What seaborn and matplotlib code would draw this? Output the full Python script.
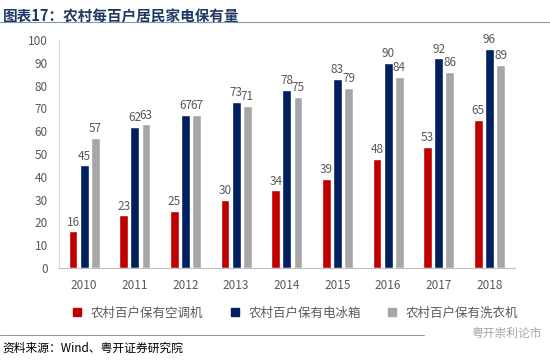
import matplotlib
matplotlib.use("Agg")
import matplotlib.pyplot as plt
import seaborn as sns
import pandas as pd

# 数据
years = ["2010", "2011", "2012", "2013", "2014", "2015", "2016", "2017", "2018"]
aircon = [16, 23, 25, 30, 34, 39, 48, 53, 65]
fridge = [45, 62, 67, 73, 78, 83, 90, 92, 96]
washer = [57, 63, 67, 71, 75, 79, 84, 86, 89]
series_names = ["农村百户保有空调机", "农村百户保有电冰箱", "农村百户保有洗衣机"]
colors = ["#C00000", "#002060", "#A6A6A6"]

df = pd.DataFrame({
    "year": years * 3,
    "value": aircon + fridge + washer,
    "series": [series_names[0]] * 9 + [series_names[1]] * 9 + [series_names[2]] * 9,
})

sns.set_style("white")
plt.rcParams["font.family"] = ["Noto Sans CJK SC", "DejaVu Sans"]

fig = plt.figure(figsize=(5.5, 3.61), dpi=100)
ax = fig.add_axes([0.107, 0.258, 0.829, 0.631])

sns.barplot(data=df, x="year", y="value", hue="series", palette=colors,
            width=0.66, ax=ax, legend=False, saturation=1)

# 柱子之间留小缝
for p in ax.patches:
    w = p.get_width()
    p.set_x(p.get_x() + w * 0.1)
    p.set_width(w * 0.8)

for c in ax.containers:
    ax.bar_label(c, fmt="%d", fontsize=8.5, color="#595959", padding=2)

ax.set_ylim(0, 100)
ax.set_yticks(range(0, 101, 10))
ax.set_xlim(-0.5, 8.5)
ax.set_xlabel("")
ax.set_ylabel("")
ax.tick_params(axis="y", length=0, labelsize=8.5, labelcolor="#595959", pad=8)
ax.tick_params(axis="x", length=0, labelsize=8.5, labelcolor="#595959", pad=8)
ax.set_xticks([i + 0.5 for i in range(-1, 9)], minor=True)
ax.tick_params(axis="x", which="minor", length=3, color="#BFBFBF", direction="out")
for s in ["top", "right"]:
    ax.spines[s].set_visible(False)
ax.spines["left"].set_color("#D9D9D9")
ax.spines["bottom"].set_color("#BFBFBF")

# 图例
handles = [plt.Line2D([], [], marker="s", linestyle="", color=c, markersize=6) for c in colors]
fig.legend(handles, series_names, loc="center", bbox_to_anchor=(0.53, 0.133), ncol=3,
           frameon=False, fontsize=9, handletextpad=0.1, columnspacing=1.5,
           labelcolor="#595959")

# 标题
fig.text(0.005, 0.955, "图表17：农村每百户居民家电保有量", fontsize=10.5, fontweight="bold",
         color="#1F3864", va="center")
fig.add_artist(plt.Line2D([0, 1], [0.938, 0.938], color="#8497B0", linewidth=0.8))

# 底部
fig.add_artist(plt.Line2D([0, 0.77], [0.072, 0.072], color="#7F7F7F", linewidth=0.6))
fig.text(0.005, 0.035, "资料来源：Wind、粤开证券研究院", fontsize=8.5, style="italic",
         color="#000000", va="center")
fig.text(0.985, 0.075, "粤开崇利论市", fontsize=8.5, color="#A6A6A6", ha="right", va="center")

fig.savefig("out.png", dpi=100)
